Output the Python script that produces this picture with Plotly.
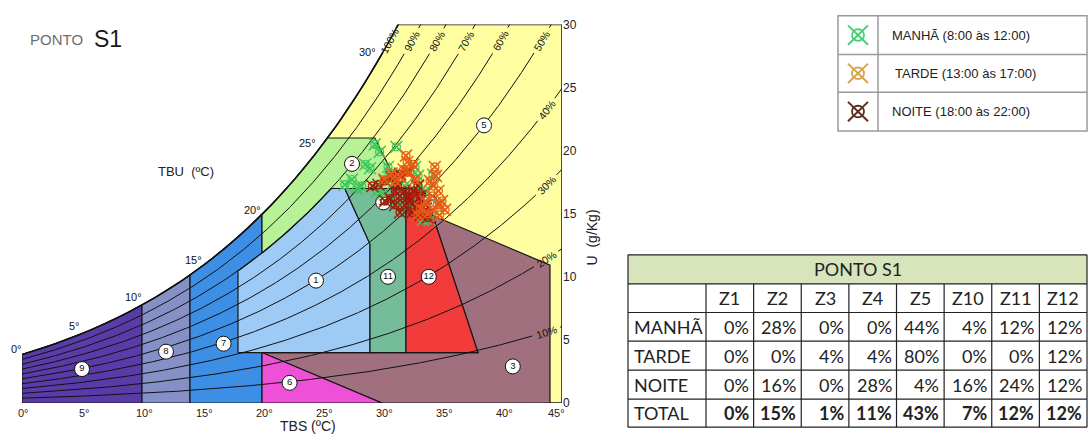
import numpy as np
import plotly.graph_objects as go

# ---------------- figure / plot-area geometry (pixels) ----------------
W, H = 1088, 441
PX_LEFT, PX_RIGHT, PX_BOTTOM, PX_TOP = 22, 562, 409, 18

# ---------------- chart data ----------------
P_ATM = 99.5                       # kPa
TBS_RANGE = [0, 45]
U_RANGE = [0, 30]
TBS_TICKS = [0, 5, 10, 15, 20, 25, 30, 35, 40, 45]
U_TICKS = [0, 5, 10, 15, 20, 25, 30]
RH_LEVELS = [10, 20, 30, 40, 50, 60, 70, 80, 90]
RH_TOP_LABELS = [50, 60, 70, 80, 90, 100]
RH_SIDE_LABELS = [10, 20, 30, 40]
RH_TOP_LABEL_U = 28.7
RH_SIDE_LABEL_T = 43.7

TBU_VALUES = [0, 5, 10, 15, 20, 25, 30]
TBU_LABEL_T = [-0.45, 4.4, 9.25, 14.25, 19.2, 23.8, 28.8]
TBU_LABEL_U = [4.3, 6.1, 8.4, 11.3, 15.3, 20.6, 27.8]

# zone limits (TBS in degC, U in g/kg)
T_Z9_Z8 = 10
T_Z8_Z7 = 14
T_COMF_MIN = 18
T_Z7_END = 20
T_COMF_MAX = 29
T_VENT_MASS_MAX = 32
T_EVAP_BASE = 38
T_EVAP_MAX = 44
T_HUMID_END = 30
U_MIN = 4
U_COMF_MAX = 17
U_VENT_MAX = 21
RH_COMF_MAX = 0.80
COMF_SLANT_T = [26.9, 29.0]
COMF_SLANT_U = [17.0, 12.6]
VENT_SLANT_T = [29.4, 31.5]
VENT_SLANT_U = [21.0, 17.0]
RED_TOP_T = 33.48
WB_EDGE_T, WB_EDGE_U, WB_SLOPE = 44.0, 10.93, -0.402

ZONE_COLORS = {
    "5": "#ffffa2", "9": "#5a3ca8", "8": "#8590c6", "7": "#3d8fe6",
    "3": "#a0707f", "6": "#ee50d8", "1": "#9ecbf5", "2": "#b8f296",
    "10": "#74bc9a", "12": "#f23c3c",
}
ZONE_IDS = ["1", "2", "3", "4", "5", "6", "7", "8", "9", "10", "11", "12"]
ZONE_LAB_T = [24.5, 27.5, 40.9, 34.0, 38.5, 22.3, 16.8, 12.0, 5.0, 30.1, 30.5, 33.9]
ZONE_LAB_U = [9.7, 18.95, 2.9, 15.9, 22.0, 1.6, 4.7, 4.07, 2.69, 15.9, 10.0, 10.0]

# measured points
manha_tbs = [29.4, 31.2, 28.6, 27.5, 30.5, 31.5, 33.0, 34.25, 30.7, 27.9, 29.6, 30.1, 33.0,
             34.0, 33.4, 32.3, 34.8, 31.1, 29.0, 28.3, 31.9, 33.6, 29.8, 32.75, 26.9]
manha_u = [20.5, 20.3, 18.9, 17.7, 18.7, 18.2, 18.0, 18.1, 17.8, 17.0, 16.8, 16.6, 17.3,
           14.5, 14.5, 15.7, 15.7, 16.0, 18.6, 17.2, 17.2, 16.8, 19.9, 18.7, 17.3]
tarde_tbs = [32.0, 32.3, 32.6, 34.5, 34.3, 34.2, 34.6, 33.8, 34.8, 30.8, 30.2, 31.5, 33.0,
             35.25, 31.8, 34.4, 34.7, 34.0, 33.6, 32.75, 31.1, 32.1, 35.0, 34.25, 33.2]
tarde_u = [19.6, 18.3, 18.9, 18.0, 17.2, 16.4, 15.7, 15.0, 14.9, 18.2, 17.7, 17.9, 14.9,
           15.3, 18.5, 18.7, 16.8, 17.6, 16.0, 17.7, 17.6, 19.1, 16.0, 15.3, 15.4]
noite_tbs = [29.7, 30.25, 30.8, 31.5, 32.1, 31.1, 31.5, 31.9, 32.3, 31.1, 31.9, 32.75, 33.2,
             33.6, 32.5, 31.5, 33.0, 30.7, 33.2, 33.8, 30.25, 29.2, 32.2, 31.3, 32.6]
noite_u = [17.3, 17.6, 17.9, 18.1, 18.3, 16.8, 16.4, 16.8, 16.0, 15.7, 15.7, 15.5, 16.4,
           15.7, 15.1, 15.1, 17.2, 16.2, 14.9, 14.7, 16.0, 17.2, 16.3, 17.2, 16.8]

SERIES_NAMES = ["MANHÃ (8:00 às 12:00)", "TARDE (13:00 às 17:00)", "NOITE (18:00 às 22:00)"]
SERIES_COLORS = ["#3cc65a", "#ea5a16", "#a01c0a"]
LEGEND_ICON_COLORS = ["#45d075", "#d9a24e", "#5e2c20"]

# table
TABLE_TITLE = "PONTO S1"
TABLE_COLS = ["Z1", "Z2", "Z3", "Z4", "Z5", "Z10", "Z11", "Z12"]
TABLE_ROWS = ["MANHÃ", "TARDE", "NOITE", "TOTAL"]
manha_pct = [0, 28, 0, 0, 44, 4, 12, 12]
tarde_pct = [0, 0, 4, 4, 80, 0, 0, 12]
noite_pct = [0, 16, 0, 28, 4, 16, 24, 12]
total_pct = [0, 15, 1, 11, 43, 7, 12, 12]

FONT = "Arial, Liberation Sans, sans-serif"
TFONT = "Lato, Open Sans, sans-serif"

# ---------------- psychrometrics ----------------
def psat(T):
    T = np.asarray(T, dtype=float)
    return 0.61094 * np.exp(17.625 * T / (T + 243.04))

def w_rh(T, rh):
    pv = rh * psat(T)
    return 622.0 * pv / (P_ATM - pv)

def t_at_w(w, rh):
    pv = w * P_ATM / (622.0 + w)
    a = np.log(pv / rh / 0.61094)
    return 243.04 * a / (17.625 - a)

def rh_curve(t0, t1, rh, n=40):
    T = np.linspace(t0, t1, n)
    return list(T), list(w_rh(T, rh))

SX = (PX_RIGHT - PX_LEFT) / (TBS_RANGE[1] - TBS_RANGE[0])
SY = (PX_BOTTOM - PX_TOP) / (U_RANGE[1] - U_RANGE[0])

fig = go.Figure()

def poly(T, U, color, lw=1.2):
    fig.add_trace(go.Scatter(x=list(T) + [T[0]], y=list(U) + [U[0]], mode="lines",
                             fill="toself", fillcolor=color,
                             line=dict(color="#161616", width=lw),
                             hoverinfo="skip", showlegend=False))

# yellow background (zone 5)
t_top = float(t_at_w(U_RANGE[1], 1.0))
sT, sU = rh_curve(0, t_top, 1.0, 80)
poly([0] + sT + [TBS_RANGE[1], TBS_RANGE[1]], [0] + sU + [U_RANGE[1], 0], ZONE_COLORS["5"], 1.5)

# zones 9, 8, 7
for (a, b, z) in [(0, T_Z9_Z8, "9"), (T_Z9_Z8, T_Z8_Z7, "8"), (T_Z8_Z7, T_Z7_END, "7")]:
    cT, cU = rh_curve(a, b, 1.0)
    poly([a] + cT + [b], [0] + cU + [0], ZONE_COLORS[z])

# zone 3 (evaporative cooling)
k = (RED_TOP_T - T_EVAP_BASE) / (U_COMF_MAX - U_MIN)
Ui = (WB_EDGE_U + WB_SLOPE * (T_EVAP_BASE - k * U_MIN - WB_EDGE_T)) / (1 - WB_SLOPE * k)
Ti = T_EVAP_BASE + k * (Ui - U_MIN)
poly([T_Z7_END, T_EVAP_BASE, Ti, T_EVAP_MAX, T_EVAP_MAX, T_HUMID_END],
     [U_MIN, U_MIN, Ui, WB_EDGE_U, 0, 0], ZONE_COLORS["3"])

# zone 6 (humidification)
poly([T_Z7_END, T_Z7_END, T_HUMID_END], [0, U_MIN, 0], ZONE_COLORS["6"])

# zone 1 (comfort)
t80_top = float(t_at_w(U_COMF_MAX, RH_COMF_MAX))
cT, cU = rh_curve(T_COMF_MIN, t80_top, RH_COMF_MAX)
poly([T_COMF_MIN] + cT + COMF_SLANT_T + [T_COMF_MAX],
     [U_MIN] + cU + COMF_SLANT_U + [U_MIN], ZONE_COLORS["1"])

# zone 2 (ventilation)
t_sat_v = float(t_at_w(U_VENT_MAX, 1.0))
aT, aU = rh_curve(T_Z7_END, t_sat_v, 1.0)
bT, bU = rh_curve(T_Z7_END, t80_top, RH_COMF_MAX)
poly(aT + VENT_SLANT_T + [t80_top] + bT[::-1],
     aU + VENT_SLANT_U + [U_COMF_MAX] + bU[::-1], ZONE_COLORS["2"])

# zones 10/11
poly([COMF_SLANT_T[0], T_VENT_MASS_MAX, T_VENT_MASS_MAX, COMF_SLANT_T[1], COMF_SLANT_T[1]],
     [U_COMF_MAX, U_COMF_MAX, U_MIN, U_MIN, COMF_SLANT_U[1]], ZONE_COLORS["10"])

# zone 12
poly([T_VENT_MASS_MAX, T_EVAP_BASE, RED_TOP_T, T_VENT_MASS_MAX],
     [U_MIN, U_MIN, U_COMF_MAX, U_COMF_MAX], ZONE_COLORS["12"])

# ---------------- RH curves with label gaps ----------------
annotations = []
for rh in RH_LEVELS + [100]:
    r = rh / 100.0
    T = np.linspace(0, TBS_RANGE[1], 600)
    U = w_rh(T, r)
    if rh in RH_SIDE_LABELS:
        lt = RH_SIDE_LABEL_T
        lu = float(w_rh(lt, r))
    else:
        lu = RH_TOP_LABEL_U
        lt = float(t_at_w(lu, r))
    d = np.hypot((T - lt) * SX, (U - lu) * SY)
    Ug = np.where(d < 14, np.nan, U)
    Ug = np.where(U > U_RANGE[1] + 0.5, np.nan, Ug)
    fig.add_trace(go.Scatter(x=T, y=Ug, mode="lines",
                             line=dict(color="#111111", width=1.5 if rh == 100 else 1),
                             hoverinfo="skip", showlegend=False, connectgaps=False))
    slope = (float(w_rh(lt + 0.05, r)) - float(w_rh(lt - 0.05, r))) / 0.1 * SY / SX
    ang = -np.degrees(np.arctan(slope))
    annotations.append(dict(x=lt, y=lu, xref="x", yref="y", text=f"{rh}%", showarrow=False,
                            textangle=ang, font=dict(family=FONT, size=10.5, color="#111"),
                            xanchor="center", yanchor="middle"))

# ---------------- paper-space helpers ----------------
def px(x):
    return x / W

def py(y):
    return 1 - y / H

def dpx(t):   # TBS value -> pixel x
    return PX_LEFT + (t - TBS_RANGE[0]) * SX

def dpy(u):   # U value -> pixel y
    return PX_BOTTOM - (u - U_RANGE[0]) * SY

shapes = []

def line(x0, y0, x1, y1, color="#222", width=1):
    shapes.append(dict(type="line", xref="paper", yref="paper", x0=px(x0), y0=py(y0),
                       x1=px(x1), y1=py(y1), line=dict(color=color, width=width)))

def text(x, y, s, size, color="#222", family=FONT, xanchor="center", bold=False):
    if bold:
        s = f"<b>{s}</b>"
    annotations.append(dict(x=px(x), y=py(y), xref="paper", yref="paper", text=s,
                            showarrow=False, xanchor=xanchor, yanchor="middle",
                            font=dict(family=family, size=size, color=color)))

# TBU labels along saturation curve
for v, t, u in zip(TBU_VALUES, TBU_LABEL_T, TBU_LABEL_U):
    text(dpx(t), dpy(u), f"{v}°", 11, "#111")

# x tick labels (ends pulled inward like the reference)
for t in TBS_TICKS:
    shift = -6 if t == TBS_TICKS[-1] else (1 if t == TBS_TICKS[0] else 2)
    text(dpx(t) + shift, PX_BOTTOM + 10, f"{t}°", 11, "#222")

# zone labels (circled numbers)
fig.add_trace(go.Scatter(x=ZONE_LAB_T, y=ZONE_LAB_U, mode="markers+text", text=ZONE_IDS,
                         textposition="middle center",
                         textfont=dict(family=FONT, size=9.5, color="#111"),
                         marker=dict(size=15, color="white", line=dict(color="#111", width=1)),
                         hoverinfo="skip", showlegend=False))

# measured points
for xs, ys, col in [(manha_tbs, manha_u, SERIES_COLORS[0]),
                    (noite_tbs, noite_u, SERIES_COLORS[2]),
                    (tarde_tbs, tarde_u, SERIES_COLORS[1])]:
    fig.add_trace(go.Scatter(x=xs, y=ys, mode="markers",
                             marker=dict(symbol="x-thin-open", size=12, color=col,
                                         line=dict(color=col, width=1.6)),
                             opacity=0.9, hoverinfo="skip", showlegend=False))
    fig.add_trace(go.Scatter(x=xs, y=ys, mode="markers",
                             marker=dict(symbol="circle-x-open", size=8, color=col,
                                         line=dict(color=col, width=1.4)),
                             opacity=0.9, hoverinfo="skip", showlegend=False))

# titles
text(28, 34, "PONTO", 15, "#6e6e6e", xanchor="left")
text(92, 33, "S1", 23, "#1a1a1a", xanchor="left")
text(156, 170, "TBU  (ºC)", 13, "#222", xanchor="left")
text(278, 433, "TBS (ºC)", 14, "#222", xanchor="left")
annotations.append(dict(x=px(592), y=py(238), xref="paper", yref="paper", text="U  (g/Kg)",
                        showarrow=False, textangle=-90, xanchor="center", yanchor="middle",
                        font=dict(family=FONT, size=14, color="#222")))

# legend box
LG_L, LG_R, LG_DIV = 838, 1087, 878
LG_Y = [9, 49, 88, 128]
shapes.append(dict(type="rect", xref="paper", yref="paper", x0=px(LG_L), x1=px(LG_R),
                   y0=py(LG_Y[3]), y1=py(LG_Y[0]), line=dict(color="#9a9a9a", width=1.5)))
for yy in LG_Y[1:3]:
    line(LG_L, yy, LG_R, yy, "#9a9a9a", 1.5)
line(LG_DIV, LG_Y[0], LG_DIV, LG_Y[3], "#9a9a9a", 1.5)
for i, (name, col) in enumerate(zip(SERIES_NAMES, LEGEND_ICON_COLORS)):
    cy = (LG_Y[i] + LG_Y[i + 1]) / 2
    cx = (LG_L + LG_DIV) / 2
    line(cx - 10, cy - 10, cx + 10, cy + 10, col, 2)
    line(cx - 10, cy + 10, cx + 10, cy - 10, col, 2)
    shapes.append(dict(type="circle", xref="paper", yref="paper", x0=px(cx - 6), x1=px(cx + 6),
                       y0=py(cy + 6), y1=py(cy - 6), line=dict(color=col, width=1.8)))
    text(890 + (3 if i == 1 else 0), cy, name, 13, "#222", xanchor="left")

# table: label column + 8 equal value columns ending at the page edge
TB_LEFT, TB_LABEL_W, TB_RIGHT = 628, 78, 1087
col_w = (TB_RIGHT - TB_LEFT - TB_LABEL_W) / len(TABLE_COLS)
TB_X = [TB_LEFT, TB_LEFT + TB_LABEL_W] + [TB_LEFT + TB_LABEL_W + col_w * (j + 1)
                                         for j in range(len(TABLE_COLS))]
TB_Y = [256, 286, 315.5, 345, 375, 405, 434]
shapes.append(dict(type="rect", xref="paper", yref="paper", x0=px(TB_X[0]), x1=px(TB_X[-1]),
                   y0=py(TB_Y[1]), y1=py(TB_Y[0]), fillcolor="#d8e4bc", line=dict(width=0),
                   layer="below"))
for yy in TB_Y:
    line(TB_X[0], yy, TB_X[-1], yy, "#222", 1.2)
line(TB_X[0], TB_Y[0], TB_X[0], TB_Y[-1], "#222", 1.2)
line(TB_X[-1], TB_Y[0], TB_X[-1], TB_Y[-1], "#222", 1.2)
for xx in TB_X[1:-1]:
    line(xx, TB_Y[1], xx, TB_Y[-1], "#222", 1.2)
text((TB_X[0] + TB_X[-1]) / 2, (TB_Y[0] + TB_Y[1]) / 2, TABLE_TITLE, 18, "#222", TFONT)
for j, c in enumerate(TABLE_COLS):
    text((TB_X[j + 1] + TB_X[j + 2]) / 2, (TB_Y[1] + TB_Y[2]) / 2, c, 18, "#222", TFONT)
for i, (rname, vals) in enumerate(zip(TABLE_ROWS, [manha_pct, tarde_pct, noite_pct, total_pct])):
    cy = (TB_Y[i + 2] + TB_Y[i + 3]) / 2
    text(TB_X[0] + 4, cy, rname, 18, "#222", TFONT, xanchor="left")
    for j, v in enumerate(vals):
        text(TB_X[j + 2] - 3, cy, f"{v}%", 18, "#222", TFONT, xanchor="right",
             bold=(rname == "TOTAL"))

fig.update_layout(
    width=W, height=H, margin=dict(l=0, r=0, t=0, b=0),
    paper_bgcolor="white", plot_bgcolor="white", showlegend=False,
    xaxis=dict(domain=[PX_LEFT / W, PX_RIGHT / W], range=TBS_RANGE, showgrid=False,
               zeroline=False, showline=False, showticklabels=False, ticks=""),
    yaxis=dict(domain=[1 - PX_BOTTOM / H, 1 - PX_TOP / H], range=U_RANGE, showgrid=False,
               zeroline=False, showline=False, side="right", tickvals=U_TICKS,
               tickfont=dict(family=FONT, size=12, color="#222"), ticks=""),
    shapes=shapes, annotations=annotations,
)

fig.write_html("out.html", config={"displayModeBar": False},
               post_script="document.body.style.margin='0';document.body.style.overflow='hidden';")
